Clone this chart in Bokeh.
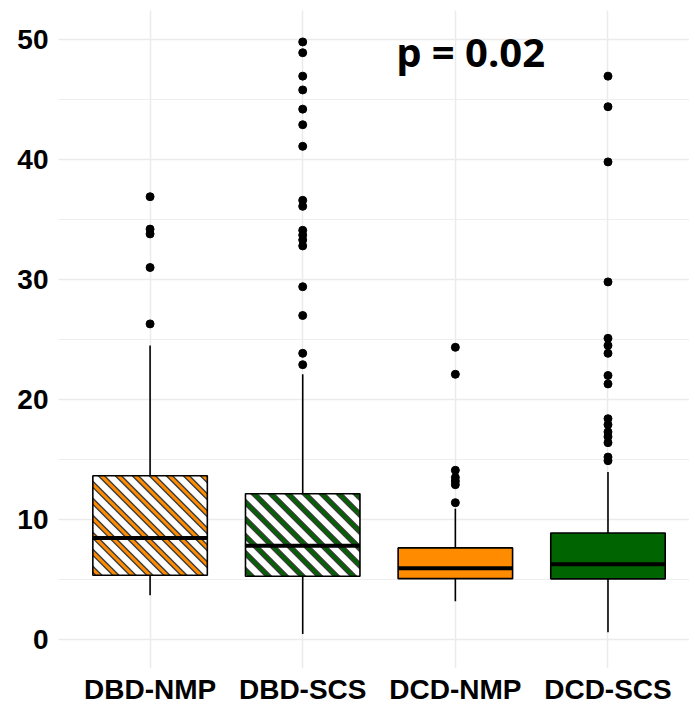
import math
from bokeh.plotting import figure
from bokeh.models import ColumnDataSource, FixedTicker, Range1d
from bokeh.core.properties import value
from bokeh.embed import file_html
from bokeh.resources import INLINE

# ---- data ----
groups = ["DBD-NMP", "DBD-SCS", "DCD-NMP", "DCD-SCS"]
q1 = [5.35, 5.27, 5.07, 5.05]
median = [8.46, 7.82, 5.93, 6.27]
q3 = [13.64, 12.15, 7.63, 8.87]
whisker_low = [3.69, 0.45, 3.19, 0.6]
whisker_high = [24.5, 22.1, 10.9, 13.95]
outliers_dbd_nmp = [36.9, 34.2, 33.8, 31.0, 26.3]
outliers_dbd_scs = [49.8, 48.9, 46.95, 45.8, 44.2, 42.9, 41.1, 36.6, 36.1,
                    34.1, 33.7, 33.3, 32.8, 29.4, 27.0, 23.85, 22.9]
outliers_dcd_nmp = [24.35, 22.1, 14.1, 13.5, 13.2, 12.9, 11.4]
outliers_dcd_scs = [46.95, 44.4, 39.8, 29.8, 25.1, 24.5, 23.85, 22.0, 21.3,
                    18.4, 17.9, 17.3, 16.9, 16.4, 15.2, 14.9]
group_colors = ["#FF8C00", "#006400", "#FF8C00", "#006400"]
hatched = [True, True, False, False]
p_label = "p = 0.02"
p_label_x = 3.1
p_label_y = 49.0
y_ticks = [0, 10, 20, 30, 40, 50]
y_minor = [5, 15, 25, 35, 45]
y_lo, y_hi = -2.42, 52.42
x_lo, x_hi = 0.4, 4.534

positions = [i + 1 for i in range(len(groups))]
half_w = 0.375

W, H = 689, 708
B_LEFT, B_RIGHT, B_TOP, B_BOTTOM = 58, 0, 10, 40
frame_w = W - B_LEFT - B_RIGHT
frame_h = H - B_TOP - B_BOTTOM
sx = frame_w / (x_hi - x_lo)   # px per x unit
sy = frame_h / (y_hi - y_lo)   # px per y unit

p = figure(width=W, height=H, output_backend="svg", toolbar_location=None,
           x_range=Range1d(x_lo, x_hi), y_range=Range1d(y_lo, y_hi),
           min_border_left=B_LEFT, min_border_right=B_RIGHT, min_border_top=B_TOP,
           min_border_bottom=B_BOTTOM)
p.outline_line_color = None
p.background_fill_color = "white"
p.border_fill_color = "white"

# axes / grid
p.xaxis.ticker = FixedTicker(ticks=positions)
p.xaxis.major_label_overrides = {pos: g for pos, g in zip(positions, groups)}
p.yaxis.ticker = FixedTicker(ticks=y_ticks, minor_ticks=y_minor)
p.xgrid.grid_line_color = "#EBEBEB"
p.xgrid.grid_line_width = 1.5
p.ygrid.grid_line_color = "#EBEBEB"
p.ygrid.grid_line_width = 1.5
p.ygrid.minor_grid_line_color = "#EEEEEE"
p.ygrid.minor_grid_line_width = 1.0

for ax in (p.xaxis, p.yaxis):
    ax.axis_line_color = None
    ax.major_tick_line_color = None
    ax.minor_tick_line_color = None
    ax.major_tick_out = 0
    ax.major_tick_in = 0
    ax.minor_tick_out = 0
    ax.minor_tick_in = 0
    ax.major_label_text_font = "Liberation Sans"
    ax.major_label_text_font_style = "bold"
    ax.major_label_text_font_size = "28px"
    ax.major_label_text_color = "black"
p.yaxis.major_label_standoff = 10
p.xaxis.major_label_standoff = 5

# whiskers
wsrc = ColumnDataSource(dict(x=positions, q1=q1, q3=q3, lo=whisker_low, hi=whisker_high))
p.segment(x0="x", y0="q3", x1="x", y1="hi", source=wsrc, line_color="black", line_width=1.6)
p.segment(x0="x", y0="q1", x1="x", y1="lo", source=wsrc, line_color="black", line_width=1.6)


def clip_halfplane(poly, a, b, c):
    """keep part where a*u + b*v + c >= 0"""
    out = []
    n = len(poly)
    for k in range(n):
        P, Q = poly[k], poly[(k + 1) % n]
        fp = a * P[0] + b * P[1] + c
        fq = a * Q[0] + b * Q[1] + c
        if fp >= 0:
            out.append(P)
        if (fp >= 0) != (fq >= 0):
            t = fp / (fp - fq)
            out.append((P[0] + t * (Q[0] - P[0]), P[1] + t * (Q[1] - P[1])))
    return out


def stripe_bands(x0, y0, x1, y1, width_px, period=17.0, phase=6.0):
    """diagonal ('\\') bands clipped to a box, returned in data coords"""
    bw = (x1 - x0) * sx
    bh = (y1 - y0) * sy
    rect = [(0, 0), (bw, 0), (bw, bh), (0, bh)]
    half = width_px * math.sqrt(2) / 2
    xs, ys = [], []
    k = -2
    while True:
        c = phase + k * period
        if c - half > bw + bh:
            break
        k += 1
        poly = clip_halfplane(rect, 1, 1, -(c - half))
        poly = clip_halfplane(poly, -1, -1, c + half)
        if len(poly) < 3:
            continue
        xs.append([x0 + u / sx for u, v in poly])
        ys.append([y0 + v / sy for u, v in poly])
    return xs, ys


# boxes
for i, g in enumerate(groups):
    left = positions[i] - half_w
    right = positions[i] + half_w
    if hatched[i]:
        p.quad(left=[left], right=[right], bottom=[q1[i]], top=[q3[i]],
               fill_color="white", line_color=None)
        dx, dy = stripe_bands(left, q1[i], right, q3[i], 5.8)
        p.patches(xs=dx, ys=dy, fill_color="#3c3c3c", line_color=None)
        cx, cy = stripe_bands(left, q1[i], right, q3[i], 3.0)
        p.patches(xs=cx, ys=cy, fill_color=group_colors[i], line_color=None)
        p.quad(left=[left], right=[right], bottom=[q1[i]], top=[q3[i]],
               fill_color=None, line_color="black", line_width=1.6)
    else:
        p.quad(left=[left], right=[right], bottom=[q1[i]], top=[q3[i]],
               fill_color=group_colors[i], line_color="black", line_width=1.6)

# medians
msrc = ColumnDataSource(dict(x0=[x - half_w for x in positions],
                             x1=[x + half_w for x in positions], y=median))
p.segment(x0="x0", y0="y", x1="x1", y1="y", source=msrc, line_color="black", line_width=4)

# outliers
all_out = [outliers_dbd_nmp, outliers_dbd_scs, outliers_dcd_nmp, outliers_dcd_scs]
ox, oy = [], []
for pos, vals in zip(positions, all_out):
    for v in vals:
        ox.append(pos)
        oy.append(v)
p.scatter(x=ox, y=oy, size=8, color="black")

# p-value annotation
p.text(x=[p_label_x], y=[p_label_y], text=[p_label], text_font=value("Open Sans"),
       text_font_style="bold", text_font_size="40px", text_align="center",
       text_baseline="middle", text_color="black")

open("out.html", "w").write(file_html(p, INLINE))
